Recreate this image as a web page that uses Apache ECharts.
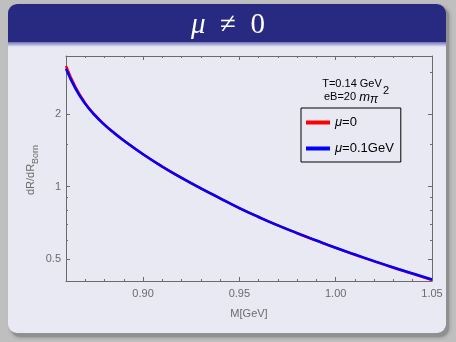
<!DOCTYPE html>
<html>
<head>
<meta charset="utf-8">
<script src="https://cdn.jsdelivr.net/npm/echarts@6/dist/echarts.min.js"></script>
<style>html,body{margin:0;padding:0;background:#bfbfbf;}#c{width:456px;height:342px;}</style>
</head>
<body>
<div id="c"></div>
<script>
const M = [0.86,0.865,0.87,0.875,0.88,0.885,0.89,0.90,0.91,0.92,0.93,0.94,0.95,0.96,0.97,0.98,0.99,1.00,1.01,1.02,1.03,1.04,1.05];
const ratioMu0  = [3.18,2.59,2.227,1.99,1.814,1.675,1.558,1.365,1.212,1.089,0.985,0.895,0.815,0.748,0.69,0.64,0.596,0.556,0.521,0.489,0.46,0.434,0.409];
const ratioMu01 = [3.10,2.555,2.212,1.982,1.809,1.672,1.556,1.364,1.211,1.088,0.984,0.895,0.815,0.748,0.69,0.641,0.597,0.557,0.522,0.49,0.461,0.435,0.411];
const seriesNames = ['μ=0','μ=0.1GeV'];
const xTicksMajor = [0.90,0.95,1.00,1.05];
const yTicksMajor = [0.5,1,2];
const yTicksMinor = [0.6,0.7,0.8,0.9,1.5,3];
const X_MIN = 0.86, X_MAX = 1.05, Y_MIN = 0.405, Y_MAX = 3.5;

const chart = echarts.init(document.getElementById('c'), null, {renderer:'canvas'});
const AX = '#6b6b6b', LBL = '#6b6b6b', FONT = 'Liberation Sans, Arial, sans-serif';

function xAxisDef(pos, major) {
  return {
    type:'value', position:pos, min:X_MIN, max:X_MAX,
    interval: major ? undefined : 0.01,
    axisLine:{show:major, lineStyle:{color:AX,width:1}},
    axisTick: major ? {show:true, inside:true, length:4, customValues:xTicksMajor, lineStyle:{color:AX}}
                    : {show:true, inside:true, length:2, lineStyle:{color:AX}},
    axisLabel: (major && pos==='bottom') ? {show:true, customValues:xTicksMajor, formatter:v=>v.toFixed(2), color:LBL, fontSize:11, fontFamily:FONT, margin:7}
                    : {show:false},
    splitLine:{show:false},
    name: (major && pos==='bottom') ? 'M[GeV]' : '',
    nameLocation:'middle', nameGap:27,
    nameTextStyle:{color:LBL, fontSize:11, fontFamily:FONT}
  };
}
function yAxisDef(pos, major) {
  return {
    type:'log', logBase:2, position:pos, min:Y_MIN, max:Y_MAX,
    axisLine:{show:major, lineStyle:{color:AX,width:1}},
    axisTick: {show:true, inside:true, length: major?4:2, customValues: major?yTicksMajor:yTicksMinor, lineStyle:{color:AX}},
    axisLabel: (major && pos==='left') ? {show:true, customValues:yTicksMajor, formatter:v=>String(v), color:LBL, fontSize:11, fontFamily:FONT, margin:5}
                    : {show:false},
    splitLine:{show:false}
  };
}

const option = {
  backgroundColor:'#bfbfbf',
  animation:false,
  grid:{left:66, top:56, right:24, bottom:61, show:false},
  xAxis:[xAxisDef('bottom',true), xAxisDef('bottom',false), xAxisDef('top',true), xAxisDef('top',false)],
  yAxis:[yAxisDef('left',true), yAxisDef('left',false), yAxisDef('right',true), yAxisDef('right',false)],
  legend:{
    orient:'vertical', left:301, top:108,
    padding:[8,7,7,5], itemGap:13, itemWidth:24, itemHeight:4, icon:'rect',
    borderColor:'#000', borderWidth:1, backgroundColor:'rgba(0,0,0,0)', borderRadius:0,
    data:seriesNames,
    formatter: n => '{i|μ}' + n.slice(1),
    textStyle:{color:'#000', fontSize:13, fontFamily:FONT, rich:{i:{fontStyle:'italic', fontSize:13, fontFamily:FONT, color:'#000'}}}
  },
  graphic:[
    {type:'rect', z:-30, silent:true, shape:{x:11, y:7, width:438, height:330, r:9}, style:{fill:'#909090', shadowBlur:4, shadowColor:'rgba(0,0,0,0.3)'}},
    {type:'rect', z:-20, silent:true, shape:{x:8, y:4, width:438, height:329, r:9}, style:{fill:'#e9e9f3'}},
    {type:'rect', z:-19, silent:true, shape:{x:8, y:4, width:438, height:38, r:[9,9,0,0]}, style:{fill:'#282a82'}},
    {type:'rect', z:-19, silent:true, shape:{x:8, y:42, width:438, height:5},
      style:{fill:{type:'linear', x:0, y:0, x2:0, y2:1, colorStops:[{offset:0,color:'#7072b8'},{offset:1,color:'#e9e9f3'}]}}},
    {type:'text', z:10, silent:true, x:228, y:25,
      style:{text:'{i|μ}  ≠  0', align:'center', verticalAlign:'middle', fill:'#ffffff', fontSize:29, fontFamily:'Liberation Serif, DejaVu Serif, serif',
        rich:{i:{fontStyle:'italic', fontSize:29, fontFamily:'Liberation Serif, DejaVu Serif, serif', fill:'#ffffff'}}}},
    {type:'text', z:10, silent:true, x:352, y:84,
      style:{text:'T=0.14 GeV', align:'center', verticalAlign:'middle', fill:'#000', fontSize:11, fontFamily:FONT}},
    {type:'text', z:10, silent:true, x:351, y:97,
      style:{text:'eB=20 {m|m}{s|π}', align:'center', verticalAlign:'middle', fill:'#000', fontSize:11, fontFamily:FONT,
        rich:{m:{fontStyle:'italic', fontSize:13, fontFamily:FONT}, s:{fontStyle:'italic', fontSize:12, fontFamily:FONT, padding:[5,0,0,0], verticalAlign:'top'}}}},
    {type:'text', z:10, silent:true, x:386, y:91,
      style:{text:'2', align:'center', verticalAlign:'middle', fill:'#000', fontSize:11, fontFamily:FONT}},
    {type:'text', z:10, silent:true, x:32, y:170, rotation:Math.PI/2,
      style:{text:'{a|dR/dR}{b|Born}', align:'center', verticalAlign:'middle', fill:LBL, fontSize:11, fontFamily:FONT,
        rich:{a:{fontSize:11, fontFamily:FONT, fill:LBL, lineHeight:13, verticalAlign:'top'},
              b:{fontSize:9, fontFamily:FONT, fill:LBL, lineHeight:10, padding:[6,0,0,0], verticalAlign:'top'}}}}
  ],
  series:[
    {name:seriesNames[0], type:'line', xAxisIndex:0, yAxisIndex:0, showSymbol:false, smooth:0.5,
     data:M.map((m,i)=>[m, ratioMu0[i]]), lineStyle:{color:'#ff0000', width:2.5}, itemStyle:{color:'#ff0000'}, z:3},
    {name:seriesNames[1], type:'line', xAxisIndex:0, yAxisIndex:0, showSymbol:false, smooth:0.5,
     data:M.map((m,i)=>[m, ratioMu01[i]]), lineStyle:{color:'#0000ff', width:2.5}, itemStyle:{color:'#0000ff'}, z:4}
  ]
};
chart.setOption(option);
</script>
</body>
</html>
